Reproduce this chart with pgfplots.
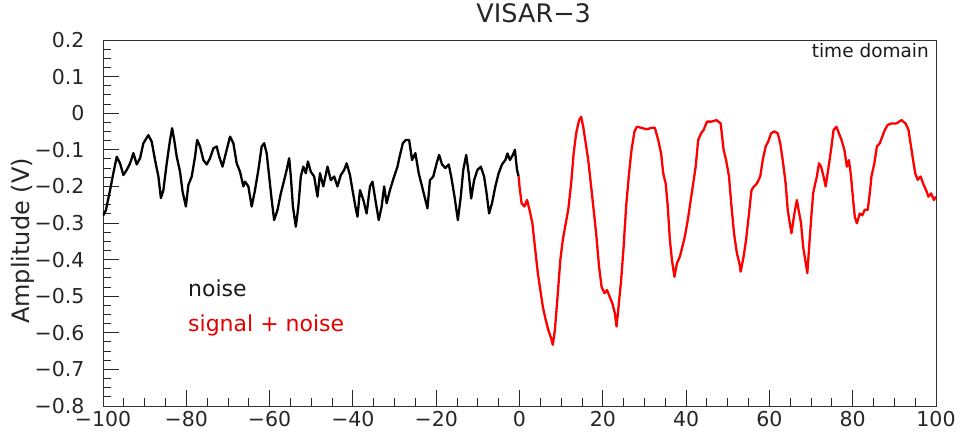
\documentclass[border=0pt]{standalone}
\usepackage{pgfplots}
\pgfplotsset{compat=1.18}
\usepackage{fontspec}
\setmainfont{DejaVu Sans}
\begin{document}
\begin{tikzpicture}
\useasboundingbox (-103pt,-29pt) rectangle (857pt,406pt);
\begin{axis}[
  at={(0,0)}, anchor=south west,
  scale only axis, width=833pt, height=366pt,
  xmin=-100, xmax=100, ymin=-0.8, ymax=0.2,
  xtick={-100,-80,-60,-40,-20,0,20,40,60,80,100},
  xticklabels={−100,−80,−60,−40,−20,0,20,40,60,80,100},
  ytick={-0.8,-0.7,-0.6,-0.5,-0.4,-0.3,-0.2,-0.1,0,0.1,0.2},
  yticklabels={−0.8,−0.7,−0.6,−0.5,−0.4,−0.3,−0.2,−0.1,0,0.1,0.2},
  minor x tick num=3, minor y tick num=3,
  xtick pos=left, ytick pos=left, tick align=inside,
  major tick length=16pt, minor tick length=8pt,
  tick style={black!85, line width=0.9pt},
  axis line style={line width=0.9pt, black!80},
  ticklabel style={font=\fontsize{20.5pt}{24pt}\selectfont, text=black!85},
  xticklabel style={yshift=-2pt},
  yticklabel style={xshift=-15pt},
  title={VISAR−3},
  title style={at={(0.517,1)}, anchor=base, yshift=11pt, inner sep=0pt,
    font=\fontsize{25.5pt}{30pt}\selectfont, text=black!85},
  ylabel={Amplitude (V)},
  ylabel style={at={(axis description cs:-0.096,0.451)}, anchor=center,
    font=\fontsize{24pt}{28pt}\selectfont, text=black!85},
]
\addplot[black, line width=2.3pt, line join=round] coordinates {
(-100,-0.28) (-99.3,-0.265) (-98.3,-0.21) (-97.5,-0.163) (-96.7,-0.119)
(-95.9,-0.137) (-95.1,-0.169) (-94.3,-0.155) (-93.5,-0.137) (-92.7,-0.109)
(-91.9,-0.14) (-91.1,-0.123) (-90.3,-0.082) (-89.1,-0.06) (-88.3,-0.078)
(-87.5,-0.128) (-86.7,-0.173) (-86.1,-0.232) (-85.5,-0.21) (-84.7,-0.137)
(-83.9,-0.073) (-83.4,-0.041) (-82.9,-0.073) (-82.3,-0.119) (-81.5,-0.16)
(-80.9,-0.214) (-80.1,-0.255) (-79.5,-0.196) (-78.7,-0.173) (-77.9,-0.119)
(-77.4,-0.073) (-76.7,-0.091) (-75.9,-0.128) (-75.1,-0.14) (-74.3,-0.123)
(-73.5,-0.096) (-72.7,-0.091) (-72.1,-0.119) (-71.3,-0.146) (-70.5,-0.109)
(-69.5,-0.064) (-68.7,-0.082) (-67.9,-0.137) (-67.1,-0.16) (-66.3,-0.2)
(-65.9,-0.187) (-65.1,-0.2) (-64.3,-0.255) (-63.5,-0.21) (-62.7,-0.155)
(-61.9,-0.091) (-61.3,-0.082) (-60.7,-0.11) (-60.1,-0.173) (-59.5,-0.237)
(-58.9,-0.292) (-58.1,-0.264) (-57.3,-0.219) (-56.5,-0.183) (-55.9,-0.155)
(-55.3,-0.123) (-54.9,-0.173) (-54.4,-0.255) (-53.7,-0.31) (-53.1,-0.255)
(-52.5,-0.173) (-51.9,-0.146) (-51.3,-0.164) (-50.8,-0.132) (-50.1,-0.16)
(-49.3,-0.173) (-48.5,-0.228) (-47.9,-0.164) (-47.1,-0.2) (-46.1,-0.146)
(-45.3,-0.183) (-44.5,-0.173) (-43.7,-0.2) (-42.9,-0.169) (-42.1,-0.155)
(-41.5,-0.137) (-40.7,-0.169) (-40.1,-0.21) (-39.4,-0.255) (-38.9,-0.283)
(-38.3,-0.21) (-37.5,-0.237) (-36.7,-0.274) (-35.9,-0.2) (-35.3,-0.187)
(-34.6,-0.237) (-33.8,-0.292) (-33.1,-0.255) (-32.5,-0.2) (-31.9,-0.246)
(-31.1,-0.21) (-30.1,-0.173) (-29.3,-0.146) (-28.7,-0.114) (-28.0,-0.082)
(-27.3,-0.073) (-26.5,-0.073) (-25.8,-0.128) (-25.0,-0.109) (-24.2,-0.164)
(-23.4,-0.2) (-22.6,-0.237) (-22.1,-0.26) (-21.5,-0.183) (-20.7,-0.173)
(-19.9,-0.137) (-19.3,-0.114) (-18.6,-0.14) (-17.8,-0.15) (-17.0,-0.14)
(-16.4,-0.173) (-15.6,-0.228) (-14.8,-0.292) (-14.1,-0.228) (-13.5,-0.155)
(-12.8,-0.114) (-12.2,-0.164) (-11.6,-0.233) (-10.9,-0.183) (-10.1,-0.155)
(-9.3,-0.146) (-8.5,-0.173) (-7.9,-0.219) (-7.3,-0.274) (-6.6,-0.246)
(-5.8,-0.2) (-5.0,-0.164) (-4.2,-0.14) (-3.4,-0.128) (-2.9,-0.11)
(-2.3,-0.128) (-1.6,-0.114) (-1.1,-0.1) (-0.6,-0.155) (-0.2,-0.173)
};
\addplot[red, line width=2.3pt, line join=round] coordinates {
(-0.2,-0.173) (0.0,-0.2) (0.5,-0.246) (1.2,-0.255) (1.8,-0.237)
(2.4,-0.264) (3.1,-0.301) (3.7,-0.365) (4.4,-0.437) (5.0,-0.483)
(5.6,-0.529) (6.3,-0.565) (6.9,-0.592) (7.6,-0.615) (8.0,-0.633)
(8.5,-0.592) (9.2,-0.492) (9.8,-0.401) (10.4,-0.346) (11.1,-0.301)
(11.7,-0.264) (12.4,-0.192) (13.0,-0.11) (13.6,-0.055) (14.3,-0.019)
(14.8,-0.01) (15.3,-0.037) (15.9,-0.082) (16.5,-0.128) (17.2,-0.2)
(17.8,-0.264) (18.4,-0.328) (19.1,-0.419) (19.7,-0.474) (20.4,-0.492)
(21.0,-0.483) (21.6,-0.5) (22.3,-0.52) (22.9,-0.547) (23.3,-0.583)
(23.7,-0.538) (24.4,-0.456) (25.0,-0.365) (25.6,-0.255) (26.3,-0.164)
(26.9,-0.1) (27.6,-0.05) (28.2,-0.037) (29.3,-0.04) (30.5,-0.044)
(31.7,-0.04) (32.5,-0.04) (33.3,-0.073) (34.0,-0.11) (34.5,-0.164)
(35.1,-0.192) (35.6,-0.255) (36.1,-0.346) (36.6,-0.401) (37.2,-0.447)
(37.8,-0.41) (38.5,-0.392) (39.1,-0.365) (39.7,-0.337) (40.4,-0.292)
(41.0,-0.246) (41.6,-0.2) (42.3,-0.146) (42.9,-0.073) (43.6,-0.055)
(44.2,-0.046) (45.0,-0.023) (46.1,-0.023) (47.3,-0.019) (48.3,-0.028)
(49.0,-0.1) (49.6,-0.128) (50.3,-0.173) (50.9,-0.255) (51.5,-0.328)
(52.2,-0.383) (52.8,-0.41) (53.1,-0.433) (53.8,-0.392) (54.4,-0.346)
(55.1,-0.274) (55.7,-0.21) (56.3,-0.2) (57.0,-0.192) (57.8,-0.173)
(58.4,-0.128) (59.1,-0.091) (59.7,-0.078) (60.4,-0.055) (61.2,-0.05)
(62.0,-0.055) (62.6,-0.082) (63.3,-0.137) (63.9,-0.192) (64.4,-0.264)
(64.9,-0.301) (65.3,-0.328) (66.0,-0.274) (66.6,-0.237) (67.0,-0.264)
(67.6,-0.301) (68.1,-0.365) (68.6,-0.401) (69.1,-0.437) (69.6,-0.356)
(70.0,-0.292) (70.5,-0.219) (71.0,-0.192) (71.4,-0.173) (71.9,-0.137)
(72.4,-0.146) (73.0,-0.173) (73.5,-0.2) (74.1,-0.155) (74.8,-0.1)
(75.4,-0.046) (76.1,-0.037) (76.7,-0.055) (77.3,-0.073) (78.0,-0.1)
(78.6,-0.146) (79.1,-0.128) (79.6,-0.173) (80.1,-0.237) (80.5,-0.283)
(81.0,-0.301) (81.7,-0.274) (82.3,-0.279) (82.9,-0.264) (83.6,-0.264)
(84.1,-0.219) (84.5,-0.173) (85.2,-0.137) (85.8,-0.091) (86.5,-0.082)
(87.1,-0.064) (87.7,-0.046) (88.4,-0.032) (89.3,-0.028) (90.5,-0.028)
(91.7,-0.019) (92.7,-0.028) (93.4,-0.046) (94.0,-0.091) (94.5,-0.128)
(95.0,-0.164) (95.6,-0.182) (96.3,-0.173) (96.9,-0.192) (97.6,-0.21)
(98.2,-0.228) (98.8,-0.219) (99.5,-0.237) (100,-0.228)
};
\node[anchor=base east, inner sep=0pt, xshift=-7pt, yshift=-18pt,
  font=\fontsize{18.5pt}{22pt}\selectfont, text=black!90]
  at (axis description cs:1,1) {time domain};
\node[anchor=base west, inner sep=0pt, xshift=85pt, yshift=109pt,
  font=\fontsize{22pt}{26pt}\selectfont, text=black!90]
  at (axis description cs:0,0) {noise};
\node[anchor=base west, inner sep=0pt, xshift=85pt, yshift=74pt,
  font=\fontsize{22pt}{26pt}\selectfont, text=red!90!black]
  at (axis description cs:0,0) {signal + noise};
\end{axis}
\end{tikzpicture}
\end{document}
